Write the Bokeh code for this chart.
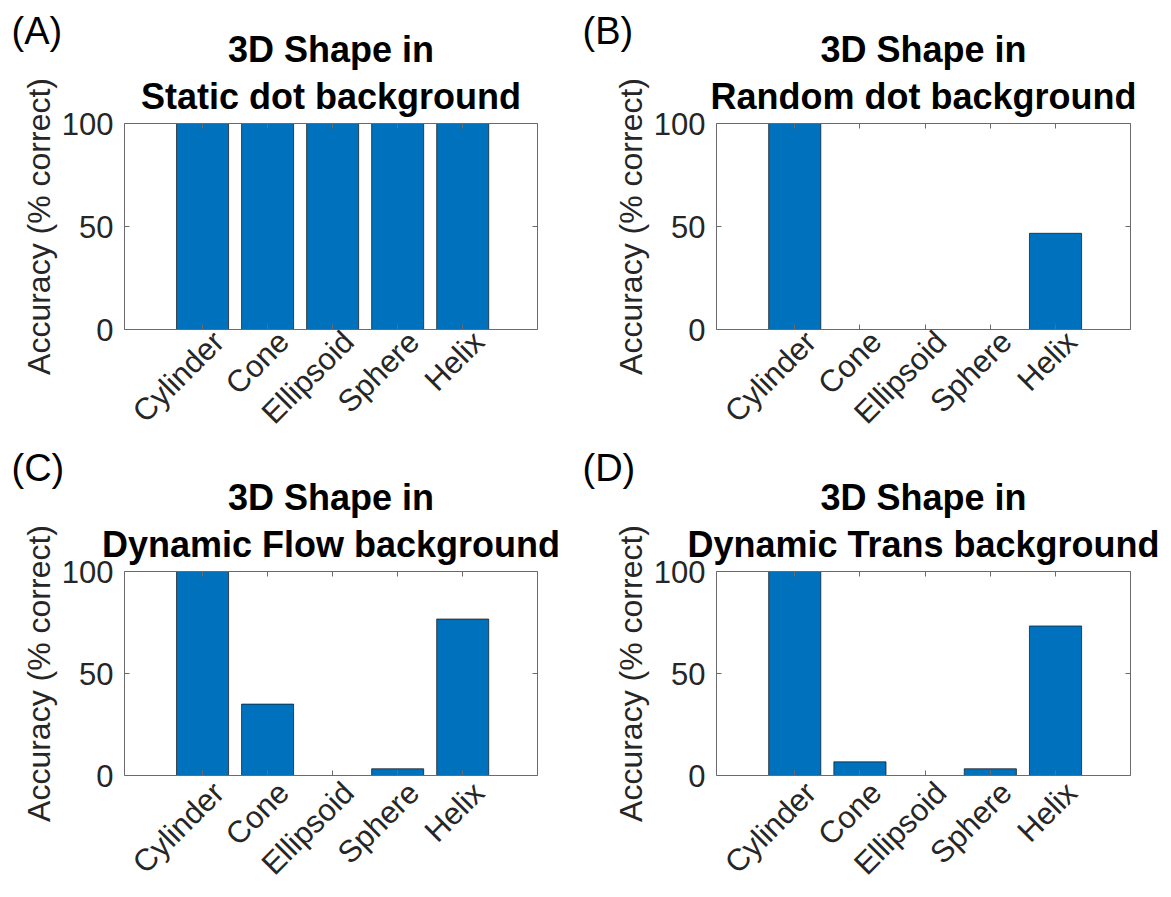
import math
from bokeh.plotting import figure
from bokeh.models import Range1d, LinearAxis, FixedTicker, Title
from bokeh.layouts import column, row
from bokeh.embed import file_html
from bokeh.resources import INLINE

# ---- data ----
shapes = ["Cylinder", "Cone", "Ellipsoid", "Sphere", "Helix"]
static_dot = [100, 100, 100, 100, 100]
random_dot = [100, 0, 0, 0, 46.7]
dynamic_flow = [100, 35, 0, 3.3, 76.7]
dynamic_trans = [100, 6.7, 0, 3.3, 73.3]
y_ticks = [0, 50, 100]
panel_tags = ["(A)", "(B)", "(C)", "(D)"]
title_top = "3D Shape in"
title_bottoms = ["Static dot background", "Random dot background",
                 "Dynamic Flow background", "Dynamic Trans background"]
series = [static_dot, random_dot, dynamic_flow, dynamic_trans]

FONT = "Liberation Sans"
AX_COL = "#6b6b6b"
TXT_COL = "#262626"
BAR_COL = "#0072BD"
X_LO, X_HI = -0.2, 6.15
LABEL_SHIFT_PX = 16
TICK_FS = "31px"

# geometry: width, height, border left, right, top, bottom, tag x offset, tag standoff, label standoff
geom = [
    (580, 445, 124, 43, 123, 113, -113, -44, 7),
    (583, 445, 136, 33, 123, 113, -134, -44, 7),
    (580, 451, 124, 43, 126, 118, -113, -22, 12),
    (583, 451, 136, 33, 126, 118, -134, -22, 12),
]


def style_axis(ax, ticks, labels=True, line=True):
    ax.axis_line_color = AX_COL if line else None
    ax.axis_line_width = 1
    ax.major_tick_line_color = AX_COL if line else None
    ax.major_tick_in = 5
    ax.major_tick_out = 0
    ax.minor_tick_line_color = None
    if labels:
        ax.major_label_text_font = FONT
        ax.major_label_text_font_size = TICK_FS
        ax.major_label_text_color = TXT_COL
    else:
        # tick marks only (MATLAB box style), no visible labels
        ax.major_label_overrides = {t: "" for t in ticks}
        ax.major_label_text_font_size = "1px"
        ax.major_label_standoff = 0


def make_panel(tag, t2, vals, g):
    w, h, bl, br, bt, bb, tag_off, tag_so, lab_so = g
    fw = w - bl - br
    xs = list(range(1, len(shapes) + 1))
    p = figure(width=w, height=h, output_backend="svg", toolbar_location=None,
               x_range=Range1d(X_LO, X_HI), y_range=Range1d(0, 100),
               x_axis_location=None, y_axis_location=None,
               min_border_left=bl, min_border_right=br,
               min_border_top=bt, min_border_bottom=bb)
    p.outline_line_color = None
    p.grid.visible = False
    p.background_fill_color = "white"
    p.border_fill_color = "white"

    p.vbar(x=xs, top=vals, width=0.8, fill_color=BAR_COL,
           line_color="#111111", line_width=0.7)

    xt = FixedTicker(ticks=xs)
    yt = FixedTicker(ticks=y_ticks)

    left = LinearAxis(ticker=yt, axis_label="Accuracy (% correct)")
    style_axis(left, y_ticks)
    left.major_label_standoff = 11
    left.axis_label_text_font = FONT
    left.axis_label_text_font_size = "32px"
    left.axis_label_text_font_style = "normal"
    left.axis_label_text_color = TXT_COL
    left.axis_label_standoff = 2
    p.add_layout(left, "left")

    # bottom axis: line + ticks at the categories
    below = LinearAxis(ticker=xt)
    style_axis(below, xs, labels=False)
    p.add_layout(below, "below")

    # rotated category labels, anchored slightly right of each tick (MATLAB style)
    shift = LABEL_SHIFT_PX * (X_HI - X_LO) / fw
    p.extra_x_ranges = {"lab": Range1d(X_LO - shift, X_HI - shift)}
    lab_ax = LinearAxis(ticker=xt, x_range_name="lab")
    style_axis(lab_ax, xs, line=False)
    lab_ax.major_label_overrides = {i + 1: s for i, s in enumerate(shapes)}
    lab_ax.major_label_orientation = math.pi / 4
    lab_ax.major_label_standoff = lab_so
    p.add_layout(lab_ax, "below")

    right = LinearAxis(ticker=yt)
    style_axis(right, y_ticks, labels=False)
    p.add_layout(right, "right")

    above = LinearAxis(ticker=xt)
    style_axis(above, xs, labels=False)
    p.add_layout(above, "above")

    # two title lines, each centred over the frame
    tb = Title(text=t2, align="center", text_font=FONT, text_font_size="36px",
               text_font_style="bold", text_color="black", standoff=13)
    p.add_layout(tb, "above")
    ta = Title(text=title_top, align="center", text_font=FONT, text_font_size="36px",
               text_font_style="bold", text_color="black", standoff=-5)
    p.add_layout(ta, "above")

    # panel tag in the top-left corner
    tt = Title(text=tag, align="left", offset=tag_off, text_font=FONT,
               text_font_size="38px", text_font_style="normal", text_color="black",
               standoff=tag_so)
    p.add_layout(tt, "above")
    return p


figs = [make_panel(tag, t2, vals, g)
        for tag, t2, vals, g in zip(panel_tags, title_bottoms, series, geom)]
p = column(row(figs[0], figs[1]), row(figs[2], figs[3]))

open("out.html", "w").write(file_html(p, INLINE))
